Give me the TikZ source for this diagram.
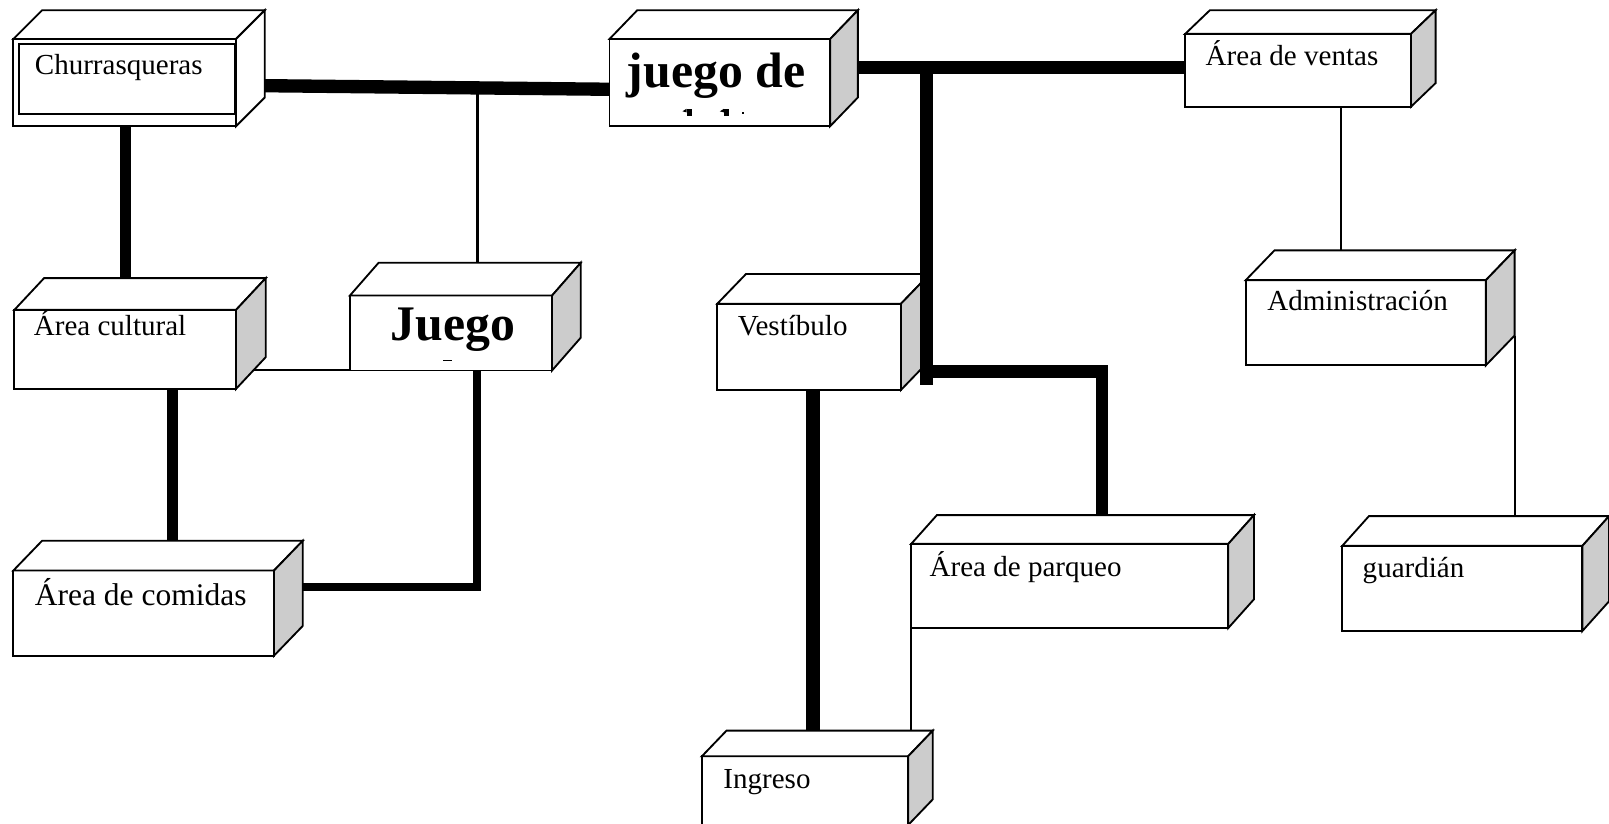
\documentclass[tikz,border=0pt]{standalone}
\usepackage{fontspec}
\setmainfont{Liberation Serif}
\definecolor{sidegray}{RGB}{204,204,204}
\tikzset{
  face/.style={draw=black, line width=1.8pt, line join=miter},
  frontface/.style={face, fill=white, rectangle, inner sep=0pt, outer sep=0pt, anchor=north west},
  lbl/.style={anchor=base west, inner sep=0pt, outer sep=0pt, font=\fontsize{28.3}{34}\selectfont},
  biglbl/.style={anchor=base west, inner sep=0pt, outer sep=0pt, font=\fontsize{30.7}{37}\selectfont},
  boldlbl/.style={anchor=base west, inner sep=0pt, outer sep=0pt, font=\fontsize{48.5}{58}\selectfont\bfseries},
  conn/.style={draw=black, line width=#1, line cap=butt, line join=miter},
  thinline/.style={draw=black, line width=2pt, line cap=butt},
}
% name, x, y, w, h, dx, dy, side fill
\newcommand\cubenode[8]{%
  \node[frontface, minimum width=#4pt, minimum height=#5pt] (#1) at (#2,#3) {};
  \filldraw[face, fill=white] (#1.north west) -- ++(#6pt,#7pt) -- ++(#4pt,0pt) -- (#1.north east) -- cycle;
  \filldraw[face, fill=#8] (#1.north east) -- ++(#6pt,#7pt) -- ++(0pt,-#5pt) -- (#1.south east) -- cycle;
}
\begin{document}
\begin{tikzpicture}[x=1pt, y=-1pt]
\fill[white] (0,0) rectangle (1568,803);
\clip (0,0) rectangle (1568,803);

% boxes
\cubenode{churr}{13}{38}{217}{85}{28}{28}{white}
\node[face, rectangle, inner sep=0pt, outer sep=0pt, anchor=north west, minimum width=210pt, minimum height=68pt] (churrin) at (18.5,43) {};
\cubenode{jdg}{594}{38}{215}{85}{27}{28}{sidegray}
\cubenode{ventas}{1155}{33}{220}{71}{24}{23}{sidegray}
\cubenode{cult}{14}{302}{216}{77}{29}{31}{sidegray}
\cubenode{jgo}{341}{288}{197}{73}{28}{32}{sidegray}
\cubenode{vest}{699}{296}{179}{84}{28}{29}{sidegray}
\cubenode{admin}{1214}{273}{234}{83}{28}{29}{sidegray}
\cubenode{comid}{13}{556}{254}{83}{28}{29}{sidegray}
\cubenode{parq}{888}{530}{309}{82}{25}{28}{sidegray}
\cubenode{guard}{1308}{532}{234}{83}{26}{29}{sidegray}
\cubenode{ingr}{684}{737}{201}{67}{24}{25}{sidegray}

% labels
\node[lbl] (t-churr) at (34,73) {Churrasqueras};
\node[boldlbl] (t-jdg) at (611,85) {juego de};
\node[lbl] (t-ventas) at (1175,64) {Área de ventas};
\node[lbl] (t-cult) at (33,327) {Área cultural};
\node[boldlbl] (t-jgo) at (381,332) {Juego};
\node[lbl] (t-vest) at (719,327) {Vestíbulo};
\node[lbl] (t-admin) at (1235,303) {Administración};
\node[biglbl] (t-comid) at (34,590) {Área de comidas};
\node[lbl] (t-parq) at (906,562) {Área de parqueo};
\node[lbl] (t-guard) at (1328,563) {guardián};
\node[lbl] (t-ingr) at (705,768) {Ingreso};

% clipped glyph fragments
\fill[black] (669,106) rectangle (674,113);
\fill[black] (665,108.5) -- (669,106) -- (669,109.5) -- cycle;
\fill[black] (705.5,106) rectangle (710.5,113);
\fill[black] (701.5,108.5) -- (705.5,106) -- (705.5,109.5) -- cycle;
\fill[black] (723,109) rectangle (725.5,111.5);
\fill[black] (432,350.5) rectangle (440,352);

% junction coordinates
\coordinate (j1) at (465,85.7);
\coordinate (j2) at (903,65.5);
\coordinate (j3) at (903,375);
\coordinate (j4) at (903,362);
\coordinate (ingtop) at ([yshift=25pt]ingr.north);

% connectors
\draw[conn=13pt] ([shift={(28pt,-3pt)}]churr.east) -- ([yshift=-6.5pt]jdg.west);
\draw[conn=3pt] (j1) -- ([shift={(25.5pt,32pt)}]jgo.north);
\draw[conn=11pt] ([xshift=1pt]churr.south) -- ([shift={(0.5pt,31pt)}]cult.north);
\draw[conn=10pt] ([xshift=46pt]cult.south) -- ([shift={(28pt,29pt)}]comid.north);
\draw[thinline] ([shift={(16.8pt,18pt)}]cult.south east) -- (jgo.south west);
\draw[conn=7.5pt] ([xshift=25.5pt]jgo.south) |- ([shift={(28pt,25.5pt)}]comid.east);
\draw[conn=13pt] ([shift={(27pt,15pt)}]jdg.east) -- ([yshift=3pt]ventas.west);
\draw[conn=13pt] (j2) -- (j3);
\draw[conn=12pt] (j4) -| ([shift={(31.5pt,28pt)}]parq.north);
\draw[conn=14pt] ([xshift=3.5pt]vest.south) -- ([shift={(7.5pt,25pt)}]ingr.north);
\draw[thinline] (parq.south west) -- (parq.south west |- ingtop);
\draw[thinline] ([xshift=42pt]ventas.south) -- ([shift={(-24pt,29pt)}]admin.north);
\draw[thinline] ([shift={(28pt,29pt)}]admin.south east) -- ([shift={(51pt,29pt)}]guard.north);
\end{tikzpicture}
\end{document}
